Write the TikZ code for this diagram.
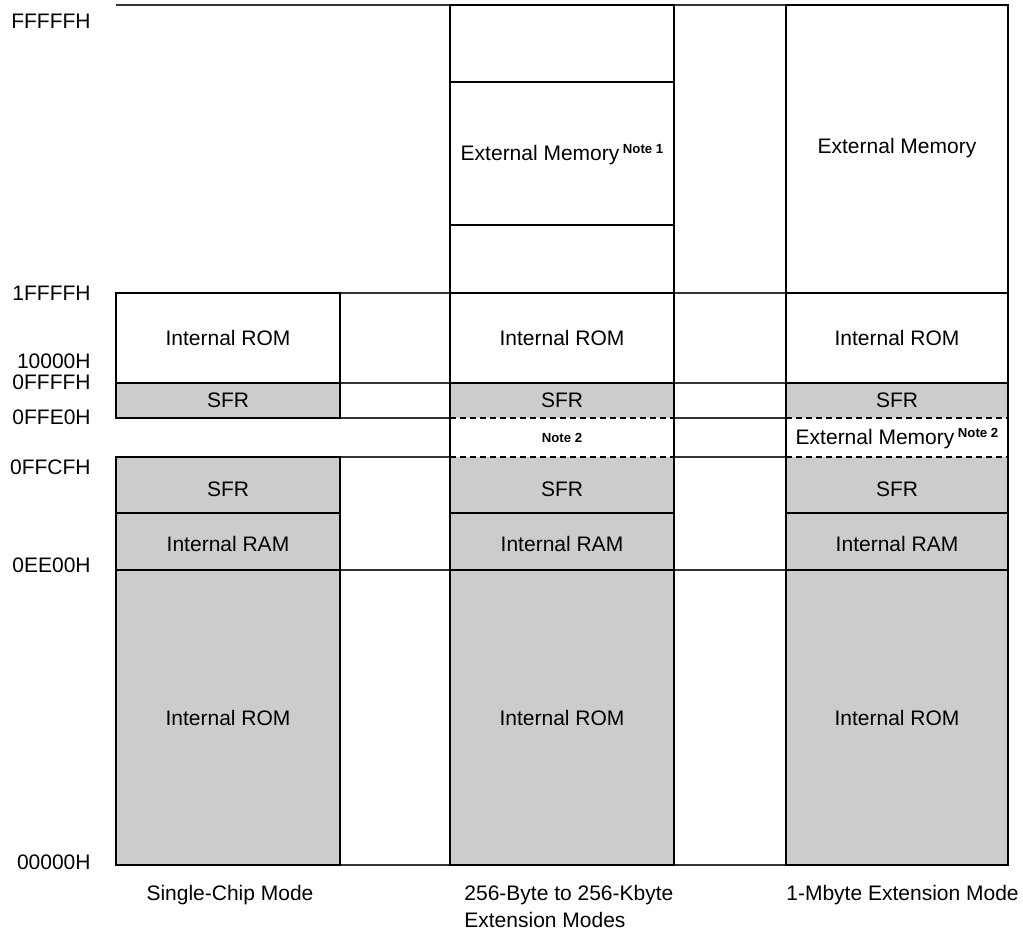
\documentclass[tikz,border=0pt]{standalone}
\usepackage{fontspec}
\setmainfont{Liberation Sans}

\tikzset{
  levelline/.style={line width=0.6pt, black!80},
  boxedge/.style={line width=1.4pt},
  sepline/.style={line width=1.1pt},
  thinsep/.style={line width=0.6pt},
  dashsep/.style={line width=0.6pt, dash pattern=on 3pt off 2pt},
  romfill/.style={fill=black!20},
  maptext/.style={font=\fontsize{10.5}{13.5}\selectfont, inner sep=0pt, text height=7.5pt, text depth=0pt},
  addrtext/.style={maptext, anchor=east},
}
\newcommand{\notetag}[1]{{\bfseries\fontsize{6.6}{7}\selectfont Note #1}}

\begin{document}
\begin{tikzpicture}[x=0.5pt,y=-0.5pt]
\useasboundingbox (0,0) rectangle (1023,934);

% address levels
\foreach \y in {5,293,383,418,457,570,865}
  \draw[levelline] (116,\y) -- (1008,\y);

% single-chip mode
\fill[white] (116,293) rectangle (340,383);
\fill[romfill] (116,383) rectangle (340,418);
\fill[romfill] (116,457) rectangle (340,865);
\draw[thinsep] (116,513) -- (340,513);
\draw[boxedge] (116,293) rectangle (340,418);
\draw[boxedge] (116,383) -- (340,383);
\draw[boxedge] (116,457) rectangle (340,865);
\draw[boxedge] (116,570) -- (340,570);

% extension modes
\foreach \l/\r in {450/674,786/1008}{
  \fill[white] (\l,5) rectangle (\r,383);
  \fill[romfill] (\l,383) rectangle (\r,418);
  \fill[white] (\l,418) rectangle (\r,457);
  \fill[romfill] (\l,457) rectangle (\r,865);
  \draw[dashsep] (\l,418) -- (\r,418);
  \draw[dashsep] (\l,457) -- (\r,457);
  \draw[thinsep] (\l,513) -- (\r,513);
  \draw[boxedge] (\l,5) rectangle (\r,865);
  \draw[boxedge] (\l,293) -- (\r,293);
  \draw[boxedge] (\l,383) -- (\r,383);
  \draw[boxedge] (\l,570) -- (\r,570);
}
\draw[sepline] (450,82) -- (674,82);
\draw[sepline] (450,225) -- (674,225);

% addresses
\node[addrtext] (aFFFFF) at (91,21) {FFFFFH};
\node[addrtext] (a1FFFF) at (91,293) {1FFFFH};
\node[addrtext] (a10000) at (91,361) {10000H};
\node[addrtext] (a0FFFF) at (91,382) {0FFFFH};
\node[addrtext] (a0FFE0) at (91,417) {0FFE0H};
\node[addrtext] (a0FFCF) at (91,467) {0FFCFH};
\node[addrtext] (a0EE00) at (91,565) {0EE00H};
\node[addrtext] (a00000) at (91,862) {00000H};

% single-chip contents
\node[maptext] (romhiA) at (228,338) {Internal ROM};
\node[maptext] (sfrhiA) at (228,400) {SFR};
\node[maptext] (sfrloA) at (228,489) {SFR};
\node[maptext] (ramA) at (228,544) {Internal RAM};
\node[maptext] (romloA) at (228,718) {Internal ROM};

% 256-byte to 256-kbyte contents
\node[maptext] (extB) at (562,153) {External Memory\,\raisebox{3.4pt}{\notetag{1}}};
\node[maptext] (romhiB) at (562,338) {Internal ROM};
\node[maptext] (sfrhiB) at (562,400) {SFR};
\node[maptext] (noteB) at (562,435) {\notetag{2}};
\node[maptext] (sfrloB) at (562,489) {SFR};
\node[maptext] (ramB) at (562,544) {Internal RAM};
\node[maptext] (romloB) at (562,718) {Internal ROM};

% 1-mbyte contents
\node[maptext] (extC) at (897,146) {External Memory};
\node[maptext] (romhiC) at (897,338) {Internal ROM};
\node[maptext] (sfrhiC) at (897,400) {SFR};
\node[maptext] (extloC) at (897,437) {External Memory\,\raisebox{3.4pt}{\notetag{2}}};
\node[maptext] (sfrloC) at (897,489) {SFR};
\node[maptext] (ramC) at (897,544) {Internal RAM};
\node[maptext] (romloC) at (897,718) {Internal ROM};

% mode captions
\node[maptext] (modeA) at (230,893) {Single-Chip Mode};
\node[font=\fontsize{10.5}{13.5}\selectfont, inner sep=0pt, anchor=north west, align=left] (modeB) at (464,885) {256-Byte to 256-Kbyte\\Extension Modes};
\node[maptext, anchor=west] (modeC) at (786,893) {1-Mbyte Extension Mode};
\end{tikzpicture}
\end{document}
